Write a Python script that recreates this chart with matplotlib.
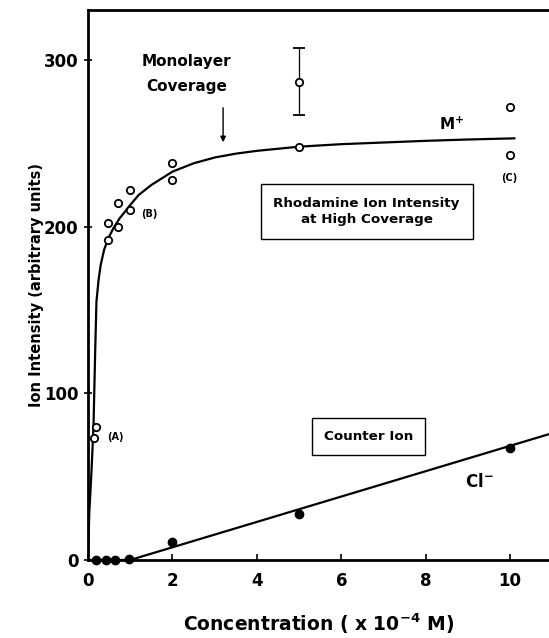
import matplotlib
matplotlib.use('Agg')
import matplotlib.pyplot as plt

# M+ (rhodamine) open circles
m_x = [0.15, 0.18, 0.48, 0.48, 0.70, 0.72, 1.0, 1.0, 2.0, 2.0, 5.0, 10.0, 10.0]
m_y = [73, 80, 192, 202, 214, 200, 210, 222, 228, 238, 248, 272, 243]

# point with error bar
err_x = [5.0]
err_y = [287]
err_size = [20]

# fitted curve for M+
curve_x = [0, 0.03, 0.08, 0.13, 0.17, 0.2, 0.25, 0.3, 0.38, 0.48, 0.6, 0.75, 1.0, 1.2, 1.5,
           2.0, 2.5, 3.0, 3.5, 4.0, 5.0, 6.0, 7.0, 8.0, 9.0, 10.1]
curve_y = [0, 28, 52, 80, 125, 155, 168, 177, 186, 193, 199, 205, 213, 219, 225,
           233, 238, 241.5, 243.8, 245.5, 248, 249.5, 250.5, 251.5, 252.3, 253]

# Cl- counter ion, filled circles
cl_x = [0.18, 0.42, 0.65, 0.97, 2.0, 5.0, 10.0]
cl_y = [0, 0, 0, 0.5, 10.6, 27.4, 66.9]
cl_line_x = [0, 1.0, 10.92]
cl_line_y = [0, 0, 75.5]

x_ticks = [0, 2, 4, 6, 8, 10]
y_ticks = [0, 100, 200, 300]

fig = plt.figure(figsize=(5.49, 6.38), dpi=100)
ax = fig.add_axes([0.1603, 0.1223, 0.8397, 0.862])

ax.plot(curve_x, curve_y, color='black', lw=1.6, zorder=2)
ax.plot(m_x, m_y, 'o', ms=5.3, mfc='white', mec='black', mew=1.3, zorder=3, clip_on=False)
ax.errorbar(err_x, err_y, yerr=err_size, fmt='o', ms=5.3, mfc='white', mec='black',
            mew=1.3, ecolor='black', elinewidth=0.9, capsize=4.5, capthick=0.9, zorder=3)

ax.plot(cl_line_x, cl_line_y, color='black', lw=1.6, zorder=2)
ax.plot(cl_x, cl_y, 'o', ms=6, color='black', zorder=3, clip_on=False)

ax.set_xlim(0, 10.92)
ax.set_ylim(0, 330)
ax.set_xticks(x_ticks)
ax.set_yticks(y_ticks)

for s in ['left', 'bottom', 'top']:
    ax.spines[s].set_linewidth(2)
ax.spines['right'].set_visible(False)

ax.tick_params(axis='x', direction='in', length=4, width=1.2, pad=9, labelsize=12)
ax.tick_params(axis='y', direction='inout', length=6, width=1.2, pad=4, labelsize=12)
for lab in ax.get_xticklabels() + ax.get_yticklabels():
    lab.set_fontweight('bold')

ax.set_xlabel('Concentration ( x 10$^{\\mathbf{-4}}$ M)', fontsize=13.5, fontweight='bold', labelpad=15)
ax.set_ylabel('Ion Intensity (arbitrary units)', fontsize=10.5, fontweight='bold', labelpad=0)

ax.text(2.34, 299, 'Monolayer', ha='center', va='center', fontsize=11, fontweight='bold')
ax.text(2.34, 284, 'Coverage', ha='center', va='center', fontsize=11, fontweight='bold')
ax.annotate('', xy=(3.2, 249), xytext=(3.2, 273),
            arrowprops=dict(arrowstyle='-|>', color='black', lw=1, mutation_scale=8))

ax.text(8.6, 261.5, 'M$^{\\mathbf{+}}$', ha='center', va='center', fontsize=11, fontweight='bold')
ax.text(9.98, 229.5, '(C)', ha='center', va='center', fontsize=7, fontweight='bold')
ax.text(1.45, 207.6, '(B)', ha='center', va='center', fontsize=7, fontweight='bold')
ax.text(0.64, 73.8, '(A)', ha='center', va='center', fontsize=7, fontweight='bold')

ax.text(6.6, 209, 'Rhodamine Ion Intensity\nat High Coverage', ha='center', va='center',
        fontsize=9.7, fontweight='bold', linespacing=1.3,
        bbox=dict(boxstyle='square,pad=0.95', fc='white', ec='black', lw=1))
ax.text(6.64, 74, 'Counter Ion', ha='center', va='center', fontsize=9.7, fontweight='bold',
        bbox=dict(boxstyle='square,pad=0.9', fc='white', ec='black', lw=1))
ax.text(9.27, 46.9, 'Cl$^{\\mathbf{-}}$', ha='center', va='center', fontsize=12, fontweight='bold')

fig.savefig('out.png', dpi=100)
